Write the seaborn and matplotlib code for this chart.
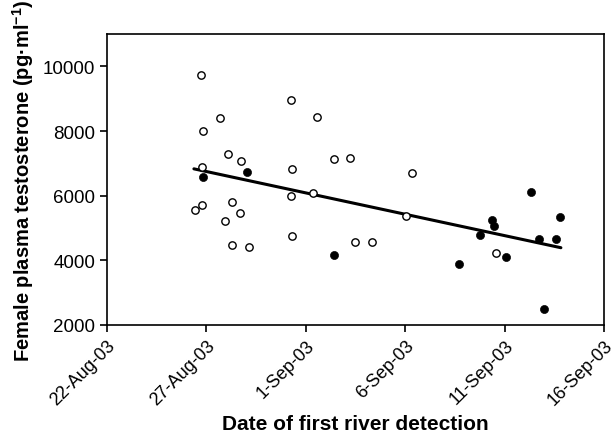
import pandas as pd
import matplotlib
matplotlib.use('Agg')
import matplotlib.pyplot as plt
import seaborn as sns

sns.set_style('ticks')
plt.rcParams['font.family'] = ['Liberation Sans', 'DejaVu Sans']
plt.rcParams['mathtext.fontset'] = 'custom'
plt.rcParams['mathtext.rm'] = 'Liberation Sans'
plt.rcParams['mathtext.bf'] = 'Liberation Sans:bold'
plt.rcParams['text.color'] = 'black'
plt.rcParams['axes.labelcolor'] = 'black'

# open circles (earlier detections)
open_dates = ['2003-08-26 17:00', '2003-08-27 16:30', '2003-08-26 20:00', '2003-08-28 02:00',
              '2003-08-28 18:00', '2003-08-26 19:00', '2003-08-31 08:00', '2003-08-31 06:00',
              '2003-09-01 13:00', '2003-09-02 10:00', '2003-09-03 06:00', '2003-08-31 06:00',
              '2003-09-01 09:00', '2003-08-26 10:00', '2003-08-26 19:00', '2003-08-28 07:30',
              '2003-08-28 17:00', '2003-08-27 22:30', '2003-08-31 08:00', '2003-08-28 07:30',
              '2003-08-29 04:00', '2003-09-03 11:00', '2003-09-04 08:00', '2003-09-06 08:00',
              '2003-09-06 01:00', '2003-09-10 14:00']
open_values = [9730, 8400, 7990, 7300, 7075, 6900, 6840, 8950, 8445, 7130, 7170, 5975, 6080,
               5560, 5705, 5790, 5470, 5205, 4750, 4470, 4420, 4565, 4565, 6715, 5375, 4235]

# filled circles (later detections)
filled_dates = ['2003-08-26 20:00', '2003-08-29 01:00', '2003-09-02 10:00', '2003-09-12 07:30',
                '2003-09-13 19:00', '2003-09-10 08:30', '2003-09-10 11:00', '2003-09-09 18:30',
                '2003-09-12 18:00', '2003-09-13 14:30', '2003-09-11 01:30', '2003-09-08 16:30',
                '2003-09-12 23:30']
filled_values = [6570, 6745, 4160, 6115, 5335, 5250, 5050, 4780, 4655, 4655, 4110, 3875, 2495]

# fitted trend line
trend_dates = ['2003-08-26 09:00', '2003-09-13 20:00']
trend_values = [6830, 4390]

xtick_dates = ['2003-08-22', '2003-08-27', '2003-09-01', '2003-09-06', '2003-09-11', '2003-09-16']

df_open = pd.DataFrame({'date': pd.to_datetime(open_dates), 'testosterone': open_values})
df_filled = pd.DataFrame({'date': pd.to_datetime(filled_dates), 'testosterone': filled_values})
df_trend = pd.DataFrame({'date': pd.to_datetime(trend_dates), 'testosterone': trend_values})

fig = plt.figure(figsize=(6.11, 4.35), dpi=100)
ax = fig.add_axes([0.175, 0.2506, 0.8135, 0.6689])

sns.lineplot(data=df_trend, x='date', y='testosterone', color='black', linewidth=2.2, ax=ax)
sns.scatterplot(data=df_open, x='date', y='testosterone', facecolor='white', edgecolor='black',
                linewidth=1, s=28, ax=ax, zorder=3)
sns.scatterplot(data=df_filled, x='date', y='testosterone', color='black', edgecolor='black',
                s=34, ax=ax, zorder=3)

xt = pd.to_datetime(xtick_dates)
ax.set_xlim(xt[0], xt[-1])
ax.set_xticks(xt)
ax.set_xticklabels([d.strftime('%-d-%b-%y') for d in xt], rotation=45, ha='right',
                   rotation_mode='anchor', fontsize=13)
ax.set_ylim(2000, 11000)
ax.set_yticks([2000, 4000, 6000, 8000, 10000])
ax.tick_params(axis='y', labelsize=13.5)
ax.tick_params(direction='out', length=5, width=1.2, colors='black')

for sp in ax.spines.values():
    sp.set_linewidth(1.2)
    sp.set_color('black')

ax.set_xlabel('Date of first river detection', fontsize=15, fontweight='bold', labelpad=4)
ax.set_ylabel(r'Female plasma testosterone (pg·ml$^{\mathbf{-1}}$)', fontsize=14.5,
              fontweight='bold', labelpad=5)

plt.savefig('out.png', dpi=100)
plt.close('all')
